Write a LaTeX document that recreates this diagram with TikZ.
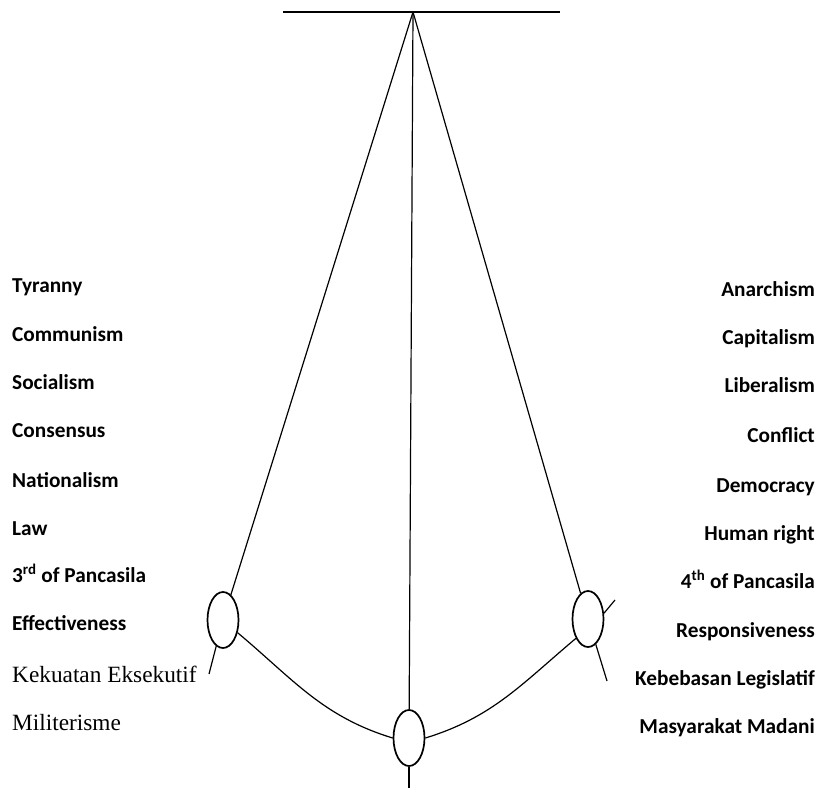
\documentclass[tikz,border=0pt]{standalone}
\usepackage{fontspec}
\setmainfont{Carlito}
\newfontfamily\serifft{Liberation Serif}
\usetikzlibrary{shapes.geometric}
\begin{document}
\begin{tikzpicture}[x=1pt,y=1pt,
  lbl/.style={inner sep=0pt,font=\fontsize{21.3}{24}\selectfont\bfseries},
  lleft/.style={lbl,anchor=base west},
  lright/.style={lbl,anchor=base east},
  sleft/.style={inner sep=0pt,anchor=base west,font=\fontsize{23.3}{28}\serifft},
  ring/.style={draw,ellipse,line width=1.7pt,minimum width=31pt,minimum height=56pt,inner sep=0pt},
  cord/.style={line width=1.2pt}]
\useasboundingbox (0,0) rectangle (819,788);
% left labels
\node[lleft] (t1) at (12,495) {Tyranny};
\node[lleft] (t2) at (12,446) {Communism};
\node[lleft] (t3) at (12,398) {Socialism};
\node[lleft] (t4) at (12,350) {Consensus};
\node[lleft] (t5) at (12,301) {Nationalism};
\node[lleft] (t6) at (12,253) {Law};
\node[lleft] (t7) at (12,206) {3\textsuperscript{rd} of Pancasila};
\node[lleft] (t8) at (12,158) {Effectiveness};
\node[sleft] (t9) at (12,106) {Kekuatan Eksekutif};
\node[sleft] (t10) at (12,58) {Militerisme};
% right labels
\node[lright] (r1) at (815,491) {Anarchism};
\node[lright] (r2) at (815,443) {Capitalism};
\node[lright] (r3) at (815,395) {Liberalism};
\node[lright] (r4) at (815,345) {Conflict};
\node[lright] (r5) at (815,296) {Democracy};
\node[lright] (r6) at (815,248) {Human right};
\node[lright] (r7) at (815,200) {4\textsuperscript{th} of Pancasila};
\node[lright] (r8) at (815,151) {Responsiveness};
\node[lright] (r9) at (815,103) {Kebebasan Legislatif};
\node[lright] (r10) at (815,55) {Masyarakat Madani};
% structure
\coordinate (barL) at (283,776);
\coordinate (barR) at (560,776);
\coordinate (apex) at (413,776);
\node[ring] (L) at (223,168) {};
\node[ring] (R) at (588,169) {};
\node[ring] (B) at (409,50) {};
\coordinate (Lend) at (209,114);
\coordinate (Rend) at (607,107);
\coordinate (Rstub) at (615,188);
\coordinate (Bend) at (409,0);
\draw[line width=2.2pt] (barL) -- (barR);
\draw[cord] (apex) -- (L);
\draw[cord] (apex) -- (R);
\draw[cord] (apex) -- (B);
\draw[cord] (L) -- (Lend);
\draw[cord] (R) -- (Rend);
\draw[cord] (R.20) -- (Rstub);
\draw[cord] (B) -- (Bend);
\draw[cord] (L.-41) to[out=-40,in=163] (B.west);
\draw[cord] (R.-122) to[out=-140,in=17] (B.east);
\end{tikzpicture}
\end{document}
